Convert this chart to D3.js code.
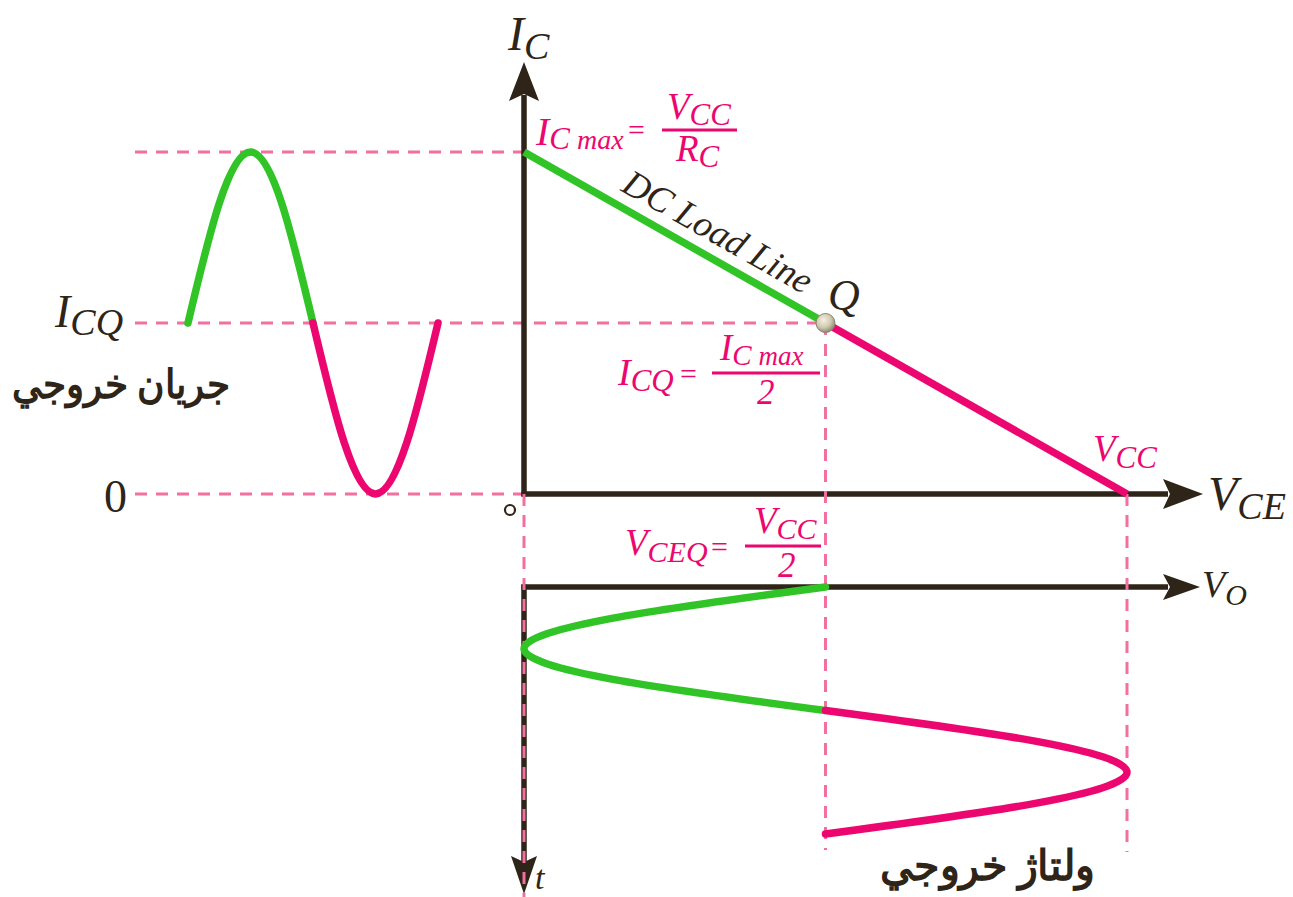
<!DOCTYPE html>
<html>
<head>
<meta charset="utf-8">
<script src="https://cdn.jsdelivr.net/npm/d3@7"></script>
<style>
  body { margin: 0; background: #fff; }
  text { font-family: "Liberation Serif", "DejaVu Serif", serif; }
</style>
</head>
<body>
<svg id="chart" width="1293" height="897"></svg>
<script>
// Operating values, normalised: V_CE in units of V_CC, I_C in units of I_C(max)
const loadLineV = [0, 0.5, 1];
const loadLineI = [1, 0.5, 0];
const qPointV = 0.5;
const qPointI = 0.5;

// One period of the signal, sampled every eighth of a cycle
const phase = [0, 0.125, 0.25, 0.375, 0.5, 0.625, 0.75, 0.875, 1];
const collectorCurrent = [0.5, 0.85, 1, 0.85, 0.5, 0.15, 0, 0.15, 0.5];
const outputVoltage = [0.5, 0.15, 0, 0.15, 0.5, 0.85, 1, 0.85, 0.5];

// Current levels marked with guide lines on the left
const currentLevels = [1, 0.5, 0];

const C = {
  ink: "#2e2418",
  green: "#31c426",
  pink: "#ec0770",
  guide: "#f26f9f"
};

const svg = d3.select("#chart");

// Scales
const x = d3.scaleLinear().domain([0, 1]).range([524, 1127]);   // V_CE
const y = d3.scaleLinear().domain([0, 1]).range([494, 152]);    // I_C
const tLeft = d3.scaleLinear().domain([0, 1]).range([188, 438]); // time, current wave
const tDown = d3.scaleLinear().domain([0, 1]).range([587, 834]); // time, voltage wave
const vAxisY = tDown(0);

// ---------- guide lines ----------
const guides = svg.append("g")
  .attr("stroke", C.guide).attr("stroke-width", 3)
  .attr("stroke-dasharray", "12,9").attr("fill", "none");

guides.selectAll("line.h").data(currentLevels).join("line")
  .attr("class", "h")
  .attr("x1", 135)
  .attr("x2", d => d === qPointI ? x(qPointV) : x(0))
  .attr("y1", d => y(d)).attr("y2", d => y(d));

// ---------- axes ----------
const axes = svg.append("g").attr("stroke", C.ink).attr("stroke-width", 5.5).attr("fill", "none");
axes.append("line").attr("x1", x(0)).attr("x2", x(0)).attr("y1", y(0) + 2.5).attr("y2", 95);
axes.append("line").attr("x1", x(0) - 2.5).attr("x2", 1168).attr("y1", y(0)).attr("y2", y(0));
axes.append("line").attr("x1", x(0) - 2.5).attr("x2", 1168).attr("y1", vAxisY).attr("y2", vAxisY);
axes.append("line").attr("x1", x(0)).attr("x2", x(0)).attr("y1", vAxisY - 2.5).attr("y2", 862);

const heads = svg.append("g").attr("fill", C.ink);
heads.append("path").attr("d", `M${x(0)},62 L${x(0) - 15},101 L${x(0)},94 L${x(0) + 15},101 Z`);
heads.append("path").attr("d", `M1203,${y(0)} L1163,${y(0) - 15} L1170,${y(0)} L1163,${y(0) + 15} Z`);
heads.append("path").attr("d", `M1200,${vAxisY} L1163,${vAxisY - 13} L1170,${vAxisY} L1163,${vAxisY + 13} Z`);
heads.append("path").attr("d", `M${x(0)},894 L${x(0) - 13},856 L${x(0)},862 L${x(0) + 13},856 Z`);

// vertical guides, drawn over the time axis
const vGuides = svg.append("g")
  .attr("stroke", C.guide).attr("stroke-width", 3)
  .attr("stroke-dasharray", "12,9").attr("fill", "none");
vGuides.append("line").attr("x1", x(0)).attr("x2", x(0)).attr("y1", y(0)).attr("y2", 897);
vGuides.append("line").attr("x1", x(qPointV)).attr("x2", x(qPointV)).attr("y1", y(qPointI)).attr("y2", 850);
vGuides.append("line").attr("x1", x(1)).attr("x2", x(1)).attr("y1", y(0)).attr("y2", 852);

// ---------- signals ----------
const samples = phase.map((p, i) => ({ p, i: collectorCurrent[i], v: outputVoltage[i] }));
const firstHalf = samples.slice(0, 5);
const secondHalf = samples.slice(4);

const currentWave = d3.line().x(d => tLeft(d.p)).y(d => y(d.i)).curve(d3.curveNatural);
const voltageWave = d3.line().x(d => x(d.v)).y(d => tDown(d.p)).curve(d3.curveNatural);

const waves = svg.append("g").attr("fill", "none").attr("stroke-width", 7.5).attr("stroke-linecap", "round");
waves.append("path").attr("d", currentWave(firstHalf)).attr("stroke", C.green);
waves.append("path").attr("d", currentWave(secondHalf)).attr("stroke", C.pink);
waves.append("path").attr("d", voltageWave(firstHalf)).attr("stroke", C.green);
waves.append("path").attr("d", voltageWave(secondHalf)).attr("stroke", C.pink);

// ---------- load line ----------
const loadPts = loadLineV.map((v, i) => ({ v, i: loadLineI[i] }));
const loadLine = d3.line().x(d => x(d.v)).y(d => y(d.i));
const ll = svg.append("g").attr("fill", "none").attr("stroke-width", 7.5);
ll.append("path").attr("d", loadLine(loadPts.slice(0, 2))).attr("stroke", C.green);
ll.append("path").attr("d", loadLine(loadPts.slice(1))).attr("stroke", C.pink);

// Q point
const defs = svg.append("defs");
const grad = defs.append("radialGradient").attr("id", "qfill").attr("cx", "40%").attr("cy", "35%").attr("r", "65%");
grad.append("stop").attr("offset", "0%").attr("stop-color", "#f4f1e2");
grad.append("stop").attr("offset", "60%").attr("stop-color", "#cfc9b0");
grad.append("stop").attr("offset", "100%").attr("stop-color", "#8d8872");
svg.append("circle").attr("cx", x(qPointV)).attr("cy", y(qPointI)).attr("r", 9.5)
  .attr("fill", "url(#qfill)").attr("stroke", "#8a8672").attr("stroke-width", 1);

// origin mark
svg.append("circle").attr("cx", 510).attr("cy", 510).attr("r", 5)
  .attr("fill", "none").attr("stroke", C.ink).attr("stroke-width", 2.2);

// ---------- labels ----------
// Symbol with subscript: parts = [[text, size, dy, italic], ...]
function symbol(px, py, parts, color, anchor) {
  const t = svg.append("text").attr("x", px).attr("y", py).attr("fill", color)
    .attr("text-anchor", anchor || "start");
  let prevDy = 0;
  parts.forEach(([s, size, dy, italic]) => {
    t.append("tspan").text(s).attr("font-size", size)
      .attr("font-style", italic === false ? "normal" : "italic")
      .attr("dy", dy - prevDy);
    prevDy = dy;
  });
  return t;
}
function fraction(x1, x2, yBar, color) {
  svg.append("line").attr("x1", x1).attr("x2", x2).attr("y1", yBar).attr("y2", yBar)
    .attr("stroke", color).attr("stroke-width", 2.8);
}

// axis names
symbol(508, 50, [["I", 48, 0], ["C", 38, 9]], C.ink);
symbol(1208, 510, [["V", 48, 0], ["CE", 38, 9]], C.ink);
symbol(1202, 597, [["V", 38, 0], ["O", 30, 8]], C.ink);
symbol(535, 889, [["t", 34, 0]], C.ink);
symbol(828, 310, [["Q", 44, 0]], C.ink);

// left level labels
symbol(55, 327, [["I", 46, 0], ["CQ", 38, 8]], C.ink);
symbol(104, 512, [["0", 46, 0, false]], C.ink);

// I_C max = V_CC / R_C
symbol(536, 145, [["I", 40, 0], ["C", 31, 4], [" max", 28, 4]], C.pink);
symbol(628, 140, [["=", 30, 0, false]], C.pink);
fraction(662, 737, 130, C.pink);
symbol(667, 119, [["V", 37, 0], ["CC", 31, 6]], C.pink);
symbol(676, 161, [["R", 37, 0], ["C", 31, 6]], C.pink);

// I_CQ = I_C max / 2
symbol(618, 385, [["I", 38, 0], ["CQ", 31, 6]], C.pink);
symbol(680, 384, [["=", 30, 0, false]], C.pink);
fraction(712, 820, 373, C.pink);
symbol(720, 360, [["I", 37, 0], ["C", 29, 5], [" max", 27, 5]], C.pink);
symbol(757, 404, [["2", 35, 0]], C.pink);

// V_CEQ = V_CC / 2
symbol(625, 555, [["V", 37, 0], ["CEQ", 30, 7]], C.pink);
symbol(711, 557, [["=", 30, 0, false]], C.pink);
fraction(745, 821, 546, C.pink);
symbol(754, 533, [["V", 37, 0], ["CC", 30, 6]], C.pink);
symbol(778, 577, [["2", 35, 0]], C.pink);

// V_CC at the end of the load line
symbol(1093, 461, [["V", 37, 0], ["CC", 31, 7]], C.pink);

// DC Load Line along the line
const ang = Math.atan2(y(0) - y(1), x(1) - x(0)) * 180 / Math.PI;
const lx = x(0.3), ly = y(0.7);
svg.append("text")
  .attr("transform", `translate(${lx},${ly}) rotate(${ang}) translate(0,-14)`)
  .attr("text-anchor", "middle").attr("font-size", 37).attr("font-style", "italic")
  .attr("fill", C.ink).text("DC Load Line");

// Persian captions
svg.append("text").attr("x", 12).attr("y", 398)
  .attr("font-family", "DejaVu Sans").attr("font-weight", "bold").attr("font-size", 40)
  .attr("textLength", 218).attr("lengthAdjust", "spacingAndGlyphs")
  .attr("fill", C.ink).text("جريان خروجي");
svg.append("text").attr("x", 880).attr("y", 880)
  .attr("font-family", "DejaVu Sans").attr("font-weight", "bold").attr("font-size", 42)
  .attr("textLength", 215).attr("lengthAdjust", "spacingAndGlyphs")
  .attr("fill", C.ink).text("ولتاژ خروجي");
</script>
</body>
</html>
